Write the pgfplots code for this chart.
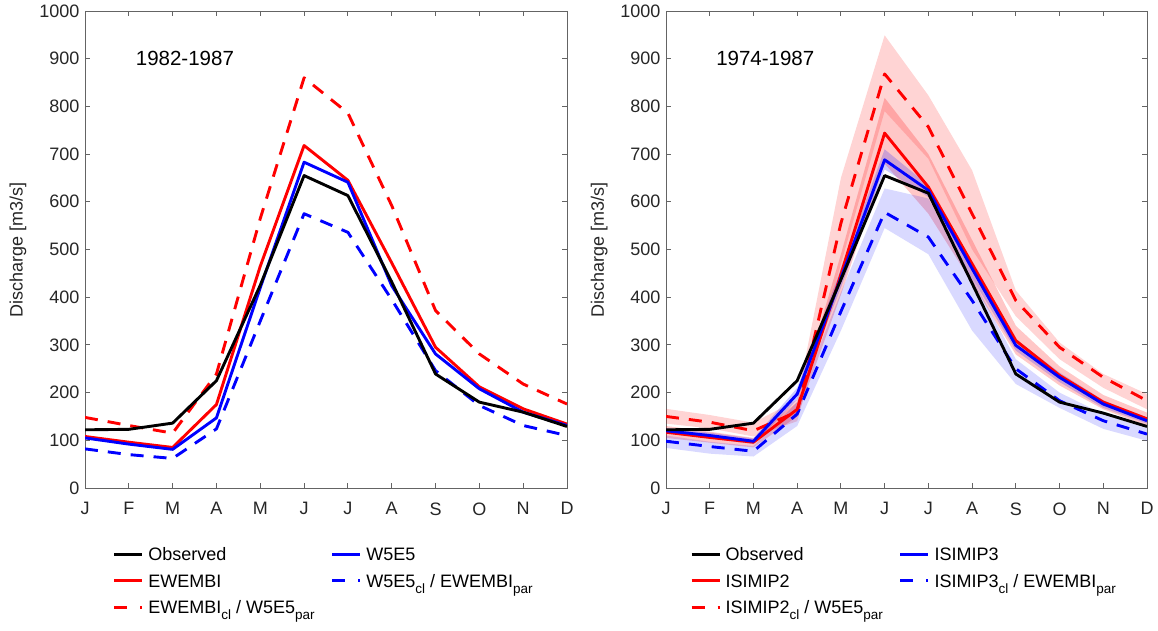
\documentclass[border=0pt]{standalone}
\usepackage{fontspec}
\setmainfont{Liberation Sans}
\usepackage{pgfplots}
\pgfplotsset{compat=1.18}
\definecolor{tickgray}{RGB}{38,38,38}
\definecolor{axgray}{RGB}{100,100,100}
\newcommand{\fs}{\fontsize{18bp}{21.6bp}\selectfont}
\newcommand{\fst}{\fontsize{20.5bp}{24bp}\selectfont}
\newcommand{\sub}[1]{\raisebox{-6bp}{\fontsize{13.5bp}{15bp}\selectfont #1}}
\tikzset{
 obs/.style={black, line width=2.9bp, line join=round},
 rs/.style={red, line width=2.9bp, line join=round},
 bs/.style={blue, line width=2.9bp, line join=round},
 rd/.style={red, line width=2.9bp, line join=round, dash pattern=on 13bp off 10bp},
 bd/.style={blue, line width=2.9bp, line join=round, dash pattern=on 13bp off 10bp},
 rdl/.style={red, line width=2.9bp, dash pattern=on 13bp off 13bp on 2bp off 20bp},
 bdl/.style={blue, line width=2.9bp, dash pattern=on 13bp off 13bp on 2bp off 20bp},
}
\pgfplotsset{
 myaxis/.style={
  scale only axis, height=477bp,
  xmin=0, xmax=11, ymin=0, ymax=1000,
  xtick={0,...,11}, xticklabels={J,F,M,A,M,J,J,A,S,O,N,D},
  ytick={0,100,...,1000},
  tick align=inside, major tick length=5bp,
  axis line style={axgray, line width=0.9bp},
  every tick/.style={axgray, line width=0.9bp},
  tick label style={font=\fs, text=tickgray},
  /pgf/number format/assume math mode=true,
  /pgf/number format/1000 sep={},
  yticklabel style={xshift=-2bp},
  xticklabel style={yshift=-11bp},
  ylabel={Discharge [m3/s]},
  ylabel style={font=\fs, text=tickgray, at={(axis description cs:-0.139,0.5)}, anchor=center},
  legend columns=2,
  legend style={draw=none, fill=none, font=\fs, text=black, inner sep=0pt, outer sep=0pt,
    column sep=0pt, row sep=8bp, cells={anchor=base west}, anchor=north west},
  legend image code/.code={\draw[##1, line cap=butt] (0bp,6.4bp) -- (28bp,6.4bp); \path (30.6bp,0bp);},
 },
}
\begin{document}
\begin{tikzpicture}
\useasboundingbox (0,0) rectangle (1158bp,631bp);
% ---------------- left panel
\begin{axis}[myaxis, width=482bp, at={(85bp,143bp)}, anchor=south west,
  legend style={at={(axis description cs:0.058,-0.1205)}}]
\addlegendimage{obs}\addlegendentry{\makebox[180.4bp][l]{Observed}}
\addlegendimage{bs}\addlegendentry{W5E5}
\addlegendimage{rs}\addlegendentry{\makebox[180.4bp][l]{EWEMBI}}
\addlegendimage{bdl}\addlegendentry{W5E5\sub{cl} / EWEMBI\sub{par}}
\addlegendimage{rdl}\addlegendentry{\makebox[180.4bp][l]{EWEMBI\sub{cl} / W5E5\sub{par}}}
\addplot[rd, forget plot] coordinates {(0,148)(1,131)(2,115)(3,239)(4,565)(5,860)(6,786)(7,592)(8,372)(9,281)(10,218)(11,176)};
\addplot[bd, forget plot] coordinates {(0,82)(1,70)(2,62)(3,124)(4,350)(5,575)(6,536)(7,395)(8,246)(9,173)(10,131)(11,110)};
\addplot[rs, forget plot] coordinates {(0,108)(1,96)(2,85)(3,175)(4,465)(5,718)(6,645)(7,472)(8,295)(9,212)(10,166)(11,134)};
\addplot[bs, forget plot] coordinates {(0,105)(1,92)(2,81)(3,147)(4,420)(5,683)(6,641)(7,424)(8,281)(9,208)(10,159)(11,131)};
\addplot[obs, forget plot] coordinates {(0,122)(1,123)(2,136)(3,225)(4,425)(5,655)(6,613)(7,432)(8,239)(9,180)(10,159)(11,129)};
\node[font=\fst, anchor=center] at (axis cs:2.28,900) {1982-1987};
\end{axis}
% ---------------- right panel
\begin{axis}[myaxis, width=481bp, at={(666bp,143bp)}, anchor=south west,
  legend style={at={(axis description cs:0.05,-0.1205)}}]
\addlegendimage{obs}\addlegendentry{\makebox[171.5bp][l]{Observed}}
\addlegendimage{bs}\addlegendentry{ISIMIP3}
\addlegendimage{rs}\addlegendentry{\makebox[171.5bp][l]{ISIMIP2}}
\addlegendimage{bdl}\addlegendentry{ISIMIP3\sub{cl} / EWEMBI\sub{par}}
\addlegendimage{rdl}\addlegendentry{\makebox[171.5bp][l]{ISIMIP2\sub{cl} / W5E5\sub{par}}}
% bands
\addplot[fill=red, fill opacity=0.17, draw=none, forget plot] coordinates {(0,166)(1,153)(2,137)(3,185)(4,650)(5,949)(6,823)(7,666)(8,414)(9,305)(10,239)(11,197)
 (11,165)(10,210)(9,270)(8,360)(7,500)(6,690)(5,790)(4,470)(3,140)(2,108)(1,125)(0,135)} -- cycle;
\addplot[fill=red, fill opacity=0.22, draw=none, forget plot] coordinates {(0,130)(1,118)(2,105)(3,180)(4,490)(5,818)(6,700)(7,520)(8,340)(9,255)(10,195)(11,158)
 (11,130)(10,165)(9,215)(8,280)(7,430)(6,575)(5,680)(4,405)(3,150)(2,85)(1,95)(0,105)} -- cycle;
\addplot[fill=blue, fill opacity=0.15, draw=none, forget plot] coordinates {(0,110)(1,97)(2,88)(3,180)(4,410)(5,628)(6,607)(7,440)(8,270)(9,200)(10,155)(11,125)
 (11,99)(10,124)(9,168)(8,218)(7,330)(6,490)(5,545)(4,330)(3,130)(2,66)(1,72)(0,84)} -- cycle;
\addplot[fill=blue, fill opacity=0.2, draw=none, forget plot] coordinates {(0,126)(1,116)(2,104)(3,210)(4,460)(5,710)(6,635)(7,470)(8,312)(9,242)(10,184)(11,148)
 (11,135)(10,168)(9,222)(8,288)(7,440)(6,610)(5,668)(4,420)(3,185)(2,92)(1,104)(0,114)} -- cycle;
% lines
\addplot[rd, forget plot] coordinates {(0,150)(1,138)(2,120)(3,160)(4,555)(5,868)(6,757)(7,575)(8,393)(9,295)(10,232)(11,183)};
\addplot[bd, forget plot] coordinates {(0,98)(1,87)(2,77)(3,155)(4,370)(5,578)(6,526)(7,393)(8,250)(9,183)(10,141)(11,113)};
\addplot[rs, forget plot] coordinates {(0,117)(1,106)(2,96)(3,165)(4,448)(5,744)(6,631)(7,470)(8,309)(9,236)(10,180)(11,145)};
\addplot[bs, forget plot] coordinates {(0,120)(1,110)(2,98)(3,197)(4,440)(5,688)(6,624)(7,460)(8,299)(9,232)(10,176)(11,141)};
\addplot[obs, forget plot] coordinates {(0,122)(1,123)(2,136)(3,225)(4,437)(5,655)(6,618)(7,429)(8,239)(9,180)(10,157)(11,129)};
\node[font=\fst, anchor=center] at (axis cs:2.27,900) {1974-1987};
\end{axis}
\end{tikzpicture}
\end{document}
